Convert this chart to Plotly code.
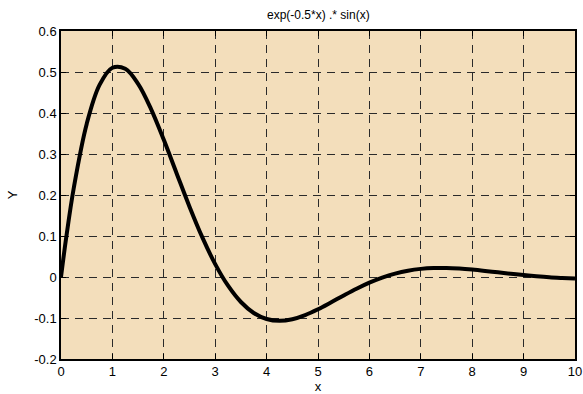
import plotly.graph_objects as go

x_vals = [0, 0.1, 0.25, 0.5, 0.75, 1.0, 1.25, 1.5, 1.75, 2.0, 2.25, 2.5, 2.75, 3.0, 3.25, 3.5, 3.75,
          4.0, 4.25, 4.5, 4.75, 5.0, 5.25, 5.5, 5.75, 6.0, 6.25, 6.5, 6.75, 7.0, 7.25, 7.5,
          7.75, 8.0, 8.25, 8.5, 8.75, 9.0, 9.25, 9.5, 9.75, 10.0]
y_vals = [0, 0.0950, 0.2183, 0.3734, 0.4685, 0.5104, 0.5080, 0.4712, 0.4102, 0.3345, 0.2526, 0.1715,
          0.0965, 0.0315, -0.0213, -0.0610, -0.0877, -0.1024, -0.1069, -0.1030, -0.0929,
          -0.0787, -0.0622, -0.0451, -0.0287, -0.0139, -0.0015, 0.0083, 0.0154, 0.0198,
          0.0219, 0.0221, 0.0206, 0.0181, 0.0149, 0.0114, 0.0079, 0.0046, 0.0017, -0.0007,
          -0.0024, -0.0037]
x_ticks = [0, 1, 2, 3, 4, 5, 6, 7, 8, 9, 10]
y_ticks = [-0.2, -0.1, 0, 0.1, 0.2, 0.3, 0.4, 0.5, 0.6]
y_labels = ["-0.2", "-0.1", "0", "0.1", "0.2", "0.3", "0.4", "0.5", "0.6"]

fig = go.Figure(go.Scatter(x=x_vals, y=y_vals, mode="lines",
                           line=dict(color="black", width=4, shape="spline")))

font = "Liberation Sans, Arial, sans-serif"
axis_common = dict(showline=True, linecolor="black", linewidth=1.5, mirror="allticks",
                   ticks="inside", ticklen=5, tickcolor="black", tickwidth=1,
                   showgrid=True, gridcolor="#2a2a2a", gridwidth=1, griddash="8px,6px",
                   zeroline=False, automargin=False,
                   tickfont=dict(family=font, size=13, color="black"))

fig.update_layout(
    width=583, height=394,
    margin=dict(l=61, r=8, t=31, b=35),
    paper_bgcolor="white", plot_bgcolor="#F3DEBB",
    showlegend=False,
    title=dict(text="exp(-0.5*x) .* sin(x)", x=0.546, xanchor="center", y=0.963, yanchor="middle",
               font=dict(family=font, size=12, color="black")),
    xaxis=dict(range=[0, 10], tickvals=x_ticks, ticktext=[str(t) for t in x_ticks],
               title=dict(text="x", font=dict(family=font, size=13, color="black"), standoff=4),
               **axis_common),
    yaxis=dict(range=[-0.2, 0.6], tickvals=y_ticks, ticktext=y_labels,
               title=dict(text="Y", font=dict(family=font, size=13, color="black"), standoff=14),
               **axis_common),
)

fig.write_html("out.html")
